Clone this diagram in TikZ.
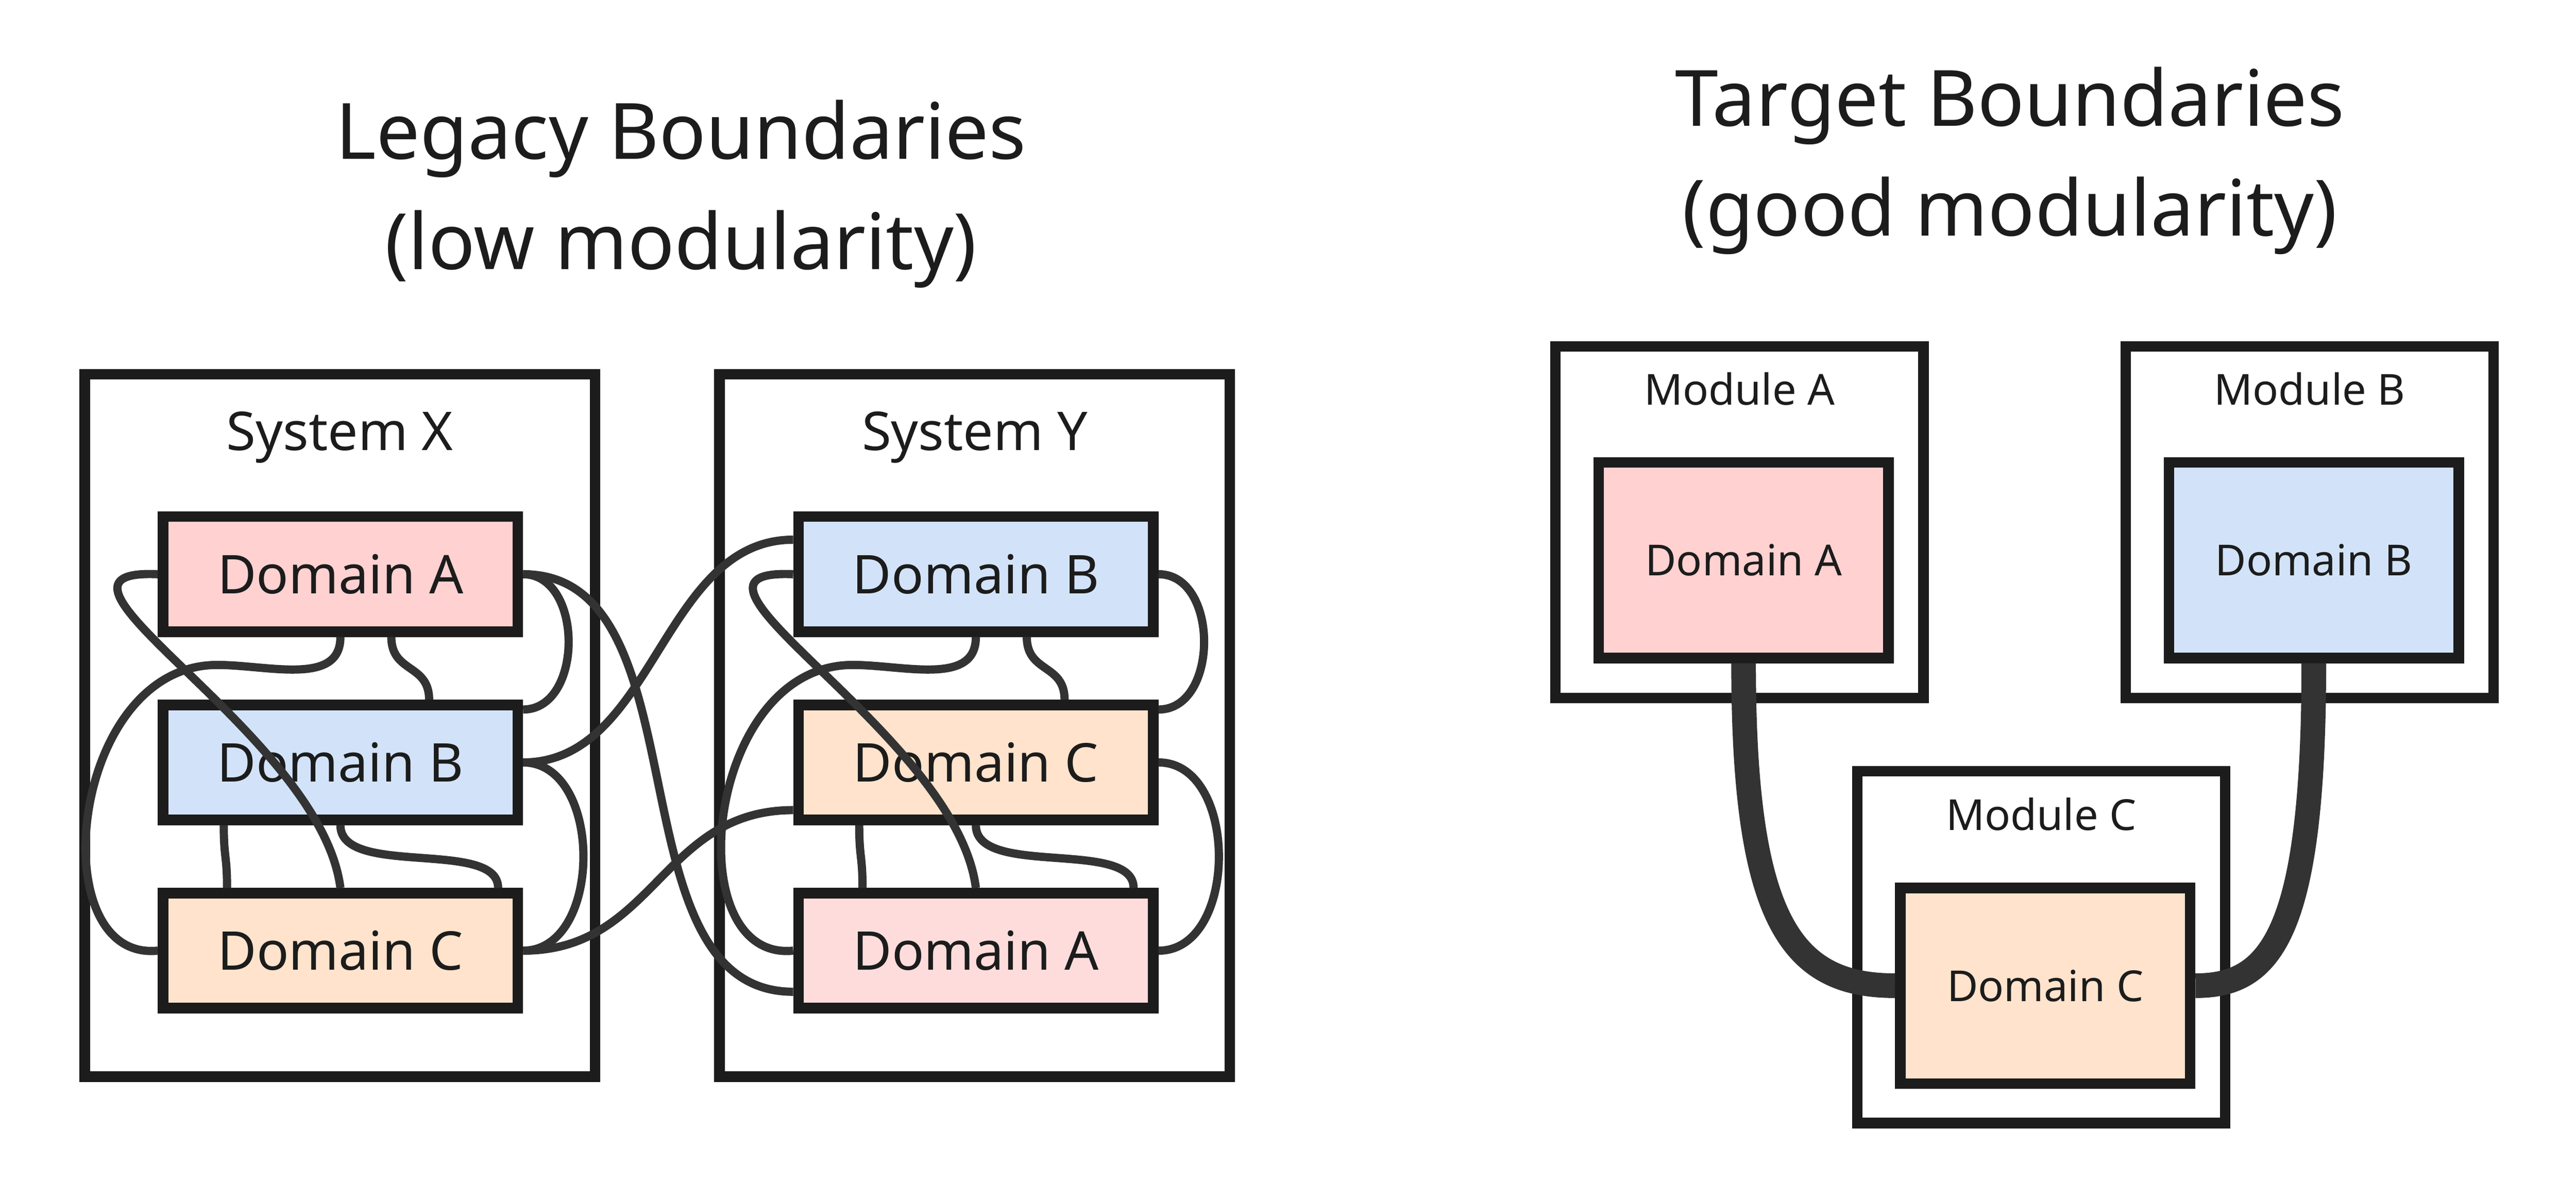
\documentclass[tikz,border=0pt]{standalone}
\usepackage{fontspec}
\setmainfont{Noto Sans}
\usetikzlibrary{calc}

\definecolor{ink}{HTML}{1C1C1C}
\definecolor{wirec}{HTML}{333333}
\definecolor{pinkA}{HTML}{FFD1D1}
\definecolor{pinkAy}{HTML}{FFDCDC}
\definecolor{blueB}{HTML}{D2E3F9}
\definecolor{peachC}{HTML}{FFE3CC}

\tikzset{
  sysbox/.style={draw=ink, line width=0.128cm, inner sep=0pt, minimum width=6.214cm, minimum height=8.546cm},
  syslabel/.style={text=ink, anchor=base, inner sep=0pt, font=\fontsize{18.5pt}{22pt}\selectfont},
  dbox/.style={draw=ink, line width=0.128cm, inner sep=0pt, text=ink, minimum width=4.32cm, minimum height=1.4cm, font=\fontsize{18.5pt}{22pt}\selectfont},
  modbox/.style={draw=ink, line width=0.128cm, inner sep=0pt, minimum width=4.48cm, minimum height=4.28cm},
  modlabel/.style={text=ink, anchor=base, inner sep=0pt, font=\fontsize{14.8pt}{18pt}\selectfont},
  tbox/.style={dbox, minimum width=3.53cm, minimum height=2.38cm, font=\fontsize{14.8pt}{18pt}\selectfont},
  wire/.style={draw=wirec, line width=0.1cm},
  fatwire/.style={draw=wirec, line width=0.3cm},
  title/.style={text=ink, align=center, inner sep=0pt, font=\fontsize{26.9pt}{38.1pt}\selectfont},
}

\begin{document}
\begin{tikzpicture}[x=0.02cm, y=-0.02cm]
            \useasboundingbox (0, 0) rectangle (1568, 717);

            % titles
            \node[title] (tleft) at (414.5, 118) {Legacy Boundaries\\(low modularity)};
            \node[title] (tright) at (1223.5, 97.7) {Target Boundaries\\(good modularity)};

            % legacy systems
            \node[sysbox] (sysx) at (206.9, 441.3) {};
            \node[sysbox] (sysy) at (593.3, 441.3) {};
            \node[syslabel] (lx) at (206.9, 273.8) {System X};
            \node[syslabel] (ly) at (593.3, 273.8) {System Y};

            \node[dbox, fill=pinkA] (xa) at (207.2, 349.3) {Domain A};
            \node[dbox, fill=blueB] (xb) at (207.2, 463.8) {Domain B};
            \node[dbox, fill=peachC] (xc) at (207.2, 578.3) {Domain C};
            \node[dbox, fill=blueB] (yb) at (594, 349.3) {Domain B};
            \node[dbox, fill=peachC] (yc) at (594, 463.8) {Domain C};
            \node[dbox, fill=pinkAy] (ya) at (594, 578.3) {Domain A};

            % inside system x
            \draw[wire] (xa.west) .. controls +(-91, -4) and +(-12, -94) .. (xc.north);
            \draw[wire] (xa.south) .. controls +(0, 30) and +(31, 0) .. ++(-75, 17)
                .. controls +(-90, 0) and +(-71, 7) .. (xc.west);
            \draw[wire] ($(xa.south)+(31, 0)$) .. controls +(0, 22) and +(0, -22) .. ($(xb.north)+(54, 0)$);
            \draw[wire] (xa.east) .. controls +(37, 0) and +(37, 0) .. ($(xb.north east)+(0, 6)$);
            \draw[wire] (xb.east) .. controls +(49, 0) and +(49, 0) .. (xc.east);
            \draw[wire] ($(xb.south)+(-71, 0)$) .. controls +(0, 20) and +(0, -20) .. ($(xc.north)+(-69, 0)$);
            \draw[wire] (xb.south) .. controls +(0, 32) and +(0, -30) .. ($(xc.north)+(96, 0)$);

            % inside system y
            \draw[wire] (yb.west) .. controls +(-91, -4) and +(-12, -94) .. (ya.north);
            \draw[wire] (yb.south) .. controls +(0, 30) and +(31, 0) .. ++(-75, 17)
                .. controls +(-90, 0) and +(-71, 7) .. (ya.west);
            \draw[wire] ($(yb.south)+(31, 0)$) .. controls +(0, 22) and +(0, -22) .. ($(yc.north)+(54, 0)$);
            \draw[wire] (yb.east) .. controls +(37, 0) and +(37, 0) .. ($(yc.north east)+(0, 6)$);
            \draw[wire] (yc.east) .. controls +(49, 0) and +(49, 0) .. (ya.east);
            \draw[wire] ($(yc.south)+(-71, 0)$) .. controls +(0, 20) and +(0, -20) .. ($(ya.north)+(-69, 0)$);
            \draw[wire] (yc.south) .. controls +(0, 32) and +(0, -30) .. ($(ya.north)+(96, 0)$);

            % across the systems
            \draw[wire] (xa.east) .. controls +(112, 0) and +(-112, 0) .. ($(ya.west)+(0, 25)$);
            \draw[wire] (xb.east) .. controls +(80, 0) and +(-80, 0) .. ($(yb.west)+(0, -21)$);
            \draw[wire] (xc.east) .. controls +(80, 0) and +(-80, 0) .. ($(yc.west)+(0, 29)$);

            % target modules
            \node[modbox] (ma) at (1058.8, 317.7) {};
            \node[modbox] (mb) at (1405.9, 317.7) {};
            \node[modbox] (mc) at (1242.5, 576.2) {};
            \node[modlabel] (lma) at (1058.8, 246.4) {Module A};
            \node[modlabel] (lmb) at (1405.9, 246.4) {Module B};
            \node[modlabel] (lmc) at (1242.5, 505) {Module C};

            \node[tbox, fill=pinkA] (da) at (1061.3, 340.8) {Domain A};
            \node[tbox, fill=blueB] (db) at (1408.4, 340.8) {Domain B};
            \node[tbox, fill=peachC] (dc) at (1244.9, 599.6) {Domain C};

            \draw[fatwire] (da.south) .. controls +(0, 157) and +(-63, 0) .. (dc.west);
            \draw[fatwire] (db.south) .. controls +(0, 167) and +(45, 0) .. (dc.east);
        \end{tikzpicture}
\end{document}
